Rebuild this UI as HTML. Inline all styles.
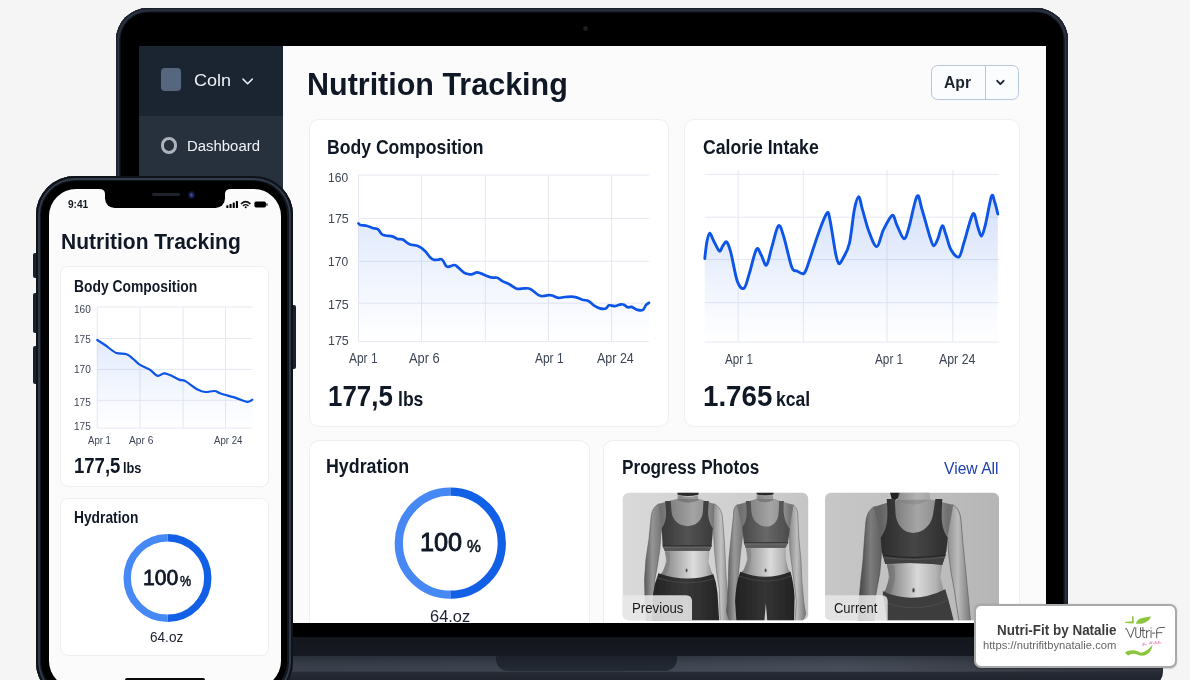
<!DOCTYPE html>
<html><head><meta charset="utf-8"><title>Nutrition Tracking</title>
<style>
html,body{margin:0;padding:0;background:#f5f5f5}
body{width:1190px;height:680px;overflow:hidden;position:relative;background:#f5f5f5;font-family:"Liberation Sans",sans-serif}
.a{position:absolute}
.t{position:absolute;white-space:nowrap;line-height:1;transform-origin:0 50%}
.card{position:absolute;background:#fff;border:1px solid #edeff3;border-radius:10px;box-sizing:border-box}
svg{position:absolute;overflow:visible}
#root{position:relative;width:1190px;height:680px;overflow:hidden;background:#f5f5f5}
</style></head><body><div id="root">

<div class="a" style="left:100px;top:656px;width:1063px;height:30px;border-radius:0 0 14px 0;background:linear-gradient(180deg,#2c323d 0,#3a404c 8px,#3f4552 15px,#262b35 16.5px,#20242d 24px)"></div>
<div class="a" style="left:100px;top:656px;width:1063px;height:16px;background:linear-gradient(90deg,rgba(0,0,0,.12) 0,rgba(0,0,0,.0) 45%,rgba(255,255,255,.05) 70%,rgba(0,0,0,.25) 97%)"></div>
<div class="a" style="left:496px;top:656px;width:181px;height:14.5px;border-radius:0 0 12px 12px;background:linear-gradient(180deg,#1b2029 0,#252b35 100%)"></div>
<div class="a" style="left:115.5px;top:8px;width:952.5px;height:648px;border-radius:32px 32px 0 0;background:#000;box-shadow:inset 0 0 0 1.4px #1b202a,inset 0 0 0 3.2px #2a3341,inset 0 0 0 4.5px #161b24"></div>
<div class="a" style="left:115.5px;top:637px;width:952.5px;height:19px;background:linear-gradient(180deg,#13161d,#171a22)"></div>
<div class="a" style="left:582.9px;top:25.9px;width:5px;height:5px;border-radius:50%;background:radial-gradient(#22252c 0,#15171c 70%)"></div>
<div class="a" style="left:139px;top:46px;width:906.5px;height:577px;background:#fbfbfc;overflow:hidden"></div>
<div class="a" style="left:139px;top:46px;width:144.3px;height:70px;background:#1b2431"></div>
<div class="a" style="left:139px;top:116px;width:144.3px;height:507px;background:#27313e"></div>
<div class="a" style="left:160.6px;top:67.6px;width:20.5px;height:23.5px;border-radius:3.8px;background:#57667f"></div>
<span class="t" style="left:194.16px;top:72.00px;font-size:16.38px;transform:scaleX(1.1026);color:#eef1f5">Coln</span>
<svg style="left:240px;top:75px" width="16" height="12" viewBox="0 0 16 12"><path d="M3 4.1 L7.6 8.7 L12.3 4.1" fill="none" stroke="#e9edf3" stroke-width="1.5" stroke-linecap="round" stroke-linejoin="round"/></svg>
<div class="a" style="left:160.6px;top:137.4px;width:16.8px;height:16.8px;border-radius:50%;box-sizing:border-box;border:3px solid #adb2bc"></div>
<span class="t" style="left:187.26px;top:138.00px;font-size:15.07px;transform:scaleX(0.9898);color:#f0f2f6">Dashboard</span>
<span class="t" style="left:306.78px;top:69.00px;font-size:31.16px;font-weight:bold;transform:scaleX(0.9783);color:#101826">Nutrition Tracking</span>
<div class="a" style="left:930.5px;top:65.3px;width:88.5px;height:35px;box-sizing:border-box;border:1.8px solid #b8c6da;border-radius:6.5px;background:#fbfcfd"></div>
<div class="a" style="left:984.9px;top:66px;width:1.5px;height:33.5px;background:#b8c6da"></div>
<span class="t" style="left:944.04px;top:75.00px;font-size:16.81px;font-weight:bold;transform:scaleX(0.9347);color:#1b2331">Apr</span>
<svg style="left:994px;top:77px" width="14" height="12" viewBox="0 0 14 12"><path d="M3.2 3.8 L6.4 7.1 L9.6 3.8" fill="none" stroke="#1b2331" stroke-width="1.9" stroke-linecap="round" stroke-linejoin="round"/></svg>
<div class="card" style="left:308.5px;top:118.5px;width:360.5px;height:308.5px"></div>
<div class="card" style="left:683.5px;top:118.5px;width:336px;height:308.5px"></div>
<div class="card" style="left:308.5px;top:440px;width:281px;height:183.5px;border-radius:10px 10px 0 0;border-bottom:0"></div>
<div class="card" style="left:603px;top:440px;width:416.5px;height:183.5px;border-radius:10px 10px 0 0;border-bottom:0"></div>
<span class="t" style="left:327.43px;top:137.00px;font-size:20.14px;font-weight:bold;transform:scaleX(0.8744);color:#101826">Body Composition</span>
<span class="t" style="left:703.11px;top:137.00px;font-size:20.00px;font-weight:bold;transform:scaleX(0.8822);color:#101826">Calorie Intake</span>
<span class="t" style="left:325.94px;top:457.00px;font-size:19.42px;font-weight:bold;transform:scaleX(0.9172);color:#101826">Hydration</span>
<span class="t" style="left:622.25px;top:457.00px;font-size:20.29px;font-weight:bold;transform:scaleX(0.8462);color:#101826">Progress Photos</span>
<span class="t" style="left:944.29px;top:461.00px;font-size:16.81px;transform:scaleX(0.9328);color:#1e3fae">View All</span>
<span class="t" style="left:328.42px;top:172.00px;font-size:12.46px;transform:scaleX(0.9675);color:#3d4556">160</span>
<span class="t" style="left:328.41px;top:213.00px;font-size:12.46px;transform:scaleX(0.9990);color:#3d4556">175</span>
<span class="t" style="left:328.42px;top:256.00px;font-size:12.46px;transform:scaleX(0.9675);color:#3d4556">170</span>
<span class="t" style="left:328.41px;top:299.00px;font-size:12.46px;transform:scaleX(0.9990);color:#3d4556">175</span>
<span class="t" style="left:328.41px;top:335.00px;font-size:12.46px;transform:scaleX(0.9990);color:#3d4556">175</span>
<span class="t" style="left:349.21px;top:352.00px;font-size:13.77px;transform:scaleX(0.8679);color:#3d4556">Apr 1</span>
<span class="t" style="left:409.23px;top:352.00px;font-size:13.77px;transform:scaleX(0.9335);color:#3d4556">Apr 6</span>
<span class="t" style="left:535.01px;top:352.00px;font-size:13.77px;transform:scaleX(0.8670);color:#3d4556">Apr 1</span>
<span class="t" style="left:596.73px;top:352.00px;font-size:13.77px;transform:scaleX(0.9069);color:#3d4556">Apr 24</span>
<span class="t" style="left:725.11px;top:353.00px;font-size:13.77px;transform:scaleX(0.8488);color:#3d4556">Apr 1</span>
<span class="t" style="left:875.01px;top:353.00px;font-size:13.77px;transform:scaleX(0.8555);color:#3d4556">Apr 1</span>
<span class="t" style="left:938.93px;top:353.00px;font-size:13.77px;transform:scaleX(0.8971);color:#3d4556">Apr 24</span>
<span class="t" style="left:327.68px;top:381.00px;font-size:29.57px;font-weight:bold;transform:scaleX(0.8763);color:#101826">177,5</span>
<span class="t" style="left:397.54px;top:390.00px;font-size:19.71px;font-weight:bold;transform:scaleX(0.8915);color:#101826">lbs</span>
<span class="t" style="left:702.57px;top:381.00px;font-size:29.28px;font-weight:bold;transform:scaleX(0.9460);color:#101826">1.765</span>
<span class="t" style="left:775.83px;top:390.00px;font-size:19.57px;font-weight:bold;transform:scaleX(0.8983);color:#101826">kcal</span>
<svg style="left:0;top:0" width="1190" height="680" viewBox="0 0 1190 680"><defs><linearGradient id="gA" x1="0" y1="0" x2="0" y2="1"><stop offset="0" stop-color="#2f6bea" stop-opacity=".14"/><stop offset=".8" stop-color="#2f6bea" stop-opacity=".025"/><stop offset="1" stop-color="#2f6bea" stop-opacity="0"/></linearGradient><linearGradient id="gB" x1="0" y1="0" x2="0" y2="1"><stop offset="0" stop-color="#2f6bea" stop-opacity=".21"/><stop offset=".8" stop-color="#2f6bea" stop-opacity=".035"/><stop offset="1" stop-color="#2f6bea" stop-opacity="0"/></linearGradient></defs><path d="M358.5,175H649M358.5,218.4H649M358.5,261.3H649M358.5,303.2H649M358.5,341.7H649M358.5,175V341.7M421.5,175V341.7M485.3,175V341.7M548.5,175V341.7M611.5,175V341.7" stroke="#e6e8f2" stroke-width="1" fill="none"/><path d="M358.5,223.4C358.8,223.7 358.9,224.6 360.4,225.0C361.8,225.4 365.2,225.5 367.2,226.0C369.2,226.5 370.7,227.5 372.5,228.0C374.3,228.5 376.3,228.2 377.8,229.2C379.3,230.2 380.3,232.9 381.6,234.0C382.9,235.1 383.5,235.1 385.4,235.5C387.3,235.9 390.9,236.0 392.9,236.6C394.9,237.2 395.9,238.5 397.5,239.0C399.1,239.5 400.8,238.7 402.8,239.6C404.8,240.5 407.1,243.2 409.6,244.3C412.1,245.4 415.4,245.0 417.9,246.1C420.4,247.2 422.7,248.8 424.7,250.7C426.7,252.5 428.5,255.7 430.0,257.2C431.5,258.7 432.4,259.3 433.8,259.7C435.2,260.1 437.2,259.8 438.3,259.7C439.4,259.6 439.8,258.9 440.6,259.0C441.4,259.1 442.0,259.4 442.9,260.5C443.8,261.6 445.0,264.7 445.9,265.8C446.8,266.9 446.8,267.0 448.2,266.9C449.6,266.8 452.7,265.1 454.2,265.0C455.7,264.9 455.6,265.3 457.2,266.6C458.8,267.9 462.1,271.4 464.0,272.6C465.9,273.9 467.2,273.9 468.6,274.1C470.0,274.4 471.0,274.4 472.4,274.1C473.8,273.8 475.5,272.4 476.9,272.3C478.3,272.2 478.3,272.5 480.7,273.4C483.1,274.2 488.5,276.7 491.3,277.4C494.1,278.1 495.5,277.1 497.3,277.7C499.1,278.3 499.9,279.8 501.9,280.9C503.9,282.0 506.9,283.0 509.4,284.3C511.8,285.6 514.1,288.0 516.6,288.7C519.1,289.4 521.9,288.4 524.2,288.4C526.5,288.4 527.9,287.8 530.3,288.9C532.7,290.0 536.5,294.0 538.6,295.2C540.7,296.4 541.5,296.0 543.1,296.0C544.7,296.0 546.9,295.3 548.4,295.2C549.9,295.1 550.6,295.1 552.2,295.5C553.8,295.9 556.1,297.6 558.2,297.8C560.3,298.1 562.4,297.1 565.0,297.0C567.6,296.9 571.2,296.4 574.1,296.9C577.0,297.3 580.0,299.0 582.4,299.7C584.8,300.4 586.6,300.1 588.5,301.0C590.4,301.9 591.9,304.1 593.8,305.3C595.7,306.5 597.8,307.9 599.8,308.4C601.8,308.9 604.4,309.0 605.9,308.5C607.4,308.0 607.4,305.7 608.9,305.3C610.4,304.9 613.0,306.3 615.0,306.1C617.0,305.9 619.5,304.5 621.0,304.3C622.5,304.1 622.9,304.2 624.0,304.7C625.1,305.2 626.5,306.9 627.8,307.3C629.1,307.7 630.0,306.5 631.6,306.9C633.2,307.3 635.7,309.4 637.6,309.9C639.5,310.4 641.5,310.7 642.9,309.9C644.3,309.1 645.0,306.2 646.0,305.0C647.0,303.8 648.5,303.2 649.0,302.8L649,341.7L358.5,341.7Z" fill="url(#gA)"/><path d="M358.5,223.4C358.8,223.7 358.9,224.6 360.4,225.0C361.8,225.4 365.2,225.5 367.2,226.0C369.2,226.5 370.7,227.5 372.5,228.0C374.3,228.5 376.3,228.2 377.8,229.2C379.3,230.2 380.3,232.9 381.6,234.0C382.9,235.1 383.5,235.1 385.4,235.5C387.3,235.9 390.9,236.0 392.9,236.6C394.9,237.2 395.9,238.5 397.5,239.0C399.1,239.5 400.8,238.7 402.8,239.6C404.8,240.5 407.1,243.2 409.6,244.3C412.1,245.4 415.4,245.0 417.9,246.1C420.4,247.2 422.7,248.8 424.7,250.7C426.7,252.5 428.5,255.7 430.0,257.2C431.5,258.7 432.4,259.3 433.8,259.7C435.2,260.1 437.2,259.8 438.3,259.7C439.4,259.6 439.8,258.9 440.6,259.0C441.4,259.1 442.0,259.4 442.9,260.5C443.8,261.6 445.0,264.7 445.9,265.8C446.8,266.9 446.8,267.0 448.2,266.9C449.6,266.8 452.7,265.1 454.2,265.0C455.7,264.9 455.6,265.3 457.2,266.6C458.8,267.9 462.1,271.4 464.0,272.6C465.9,273.9 467.2,273.9 468.6,274.1C470.0,274.4 471.0,274.4 472.4,274.1C473.8,273.8 475.5,272.4 476.9,272.3C478.3,272.2 478.3,272.5 480.7,273.4C483.1,274.2 488.5,276.7 491.3,277.4C494.1,278.1 495.5,277.1 497.3,277.7C499.1,278.3 499.9,279.8 501.9,280.9C503.9,282.0 506.9,283.0 509.4,284.3C511.8,285.6 514.1,288.0 516.6,288.7C519.1,289.4 521.9,288.4 524.2,288.4C526.5,288.4 527.9,287.8 530.3,288.9C532.7,290.0 536.5,294.0 538.6,295.2C540.7,296.4 541.5,296.0 543.1,296.0C544.7,296.0 546.9,295.3 548.4,295.2C549.9,295.1 550.6,295.1 552.2,295.5C553.8,295.9 556.1,297.6 558.2,297.8C560.3,298.1 562.4,297.1 565.0,297.0C567.6,296.9 571.2,296.4 574.1,296.9C577.0,297.3 580.0,299.0 582.4,299.7C584.8,300.4 586.6,300.1 588.5,301.0C590.4,301.9 591.9,304.1 593.8,305.3C595.7,306.5 597.8,307.9 599.8,308.4C601.8,308.9 604.4,309.0 605.9,308.5C607.4,308.0 607.4,305.7 608.9,305.3C610.4,304.9 613.0,306.3 615.0,306.1C617.0,305.9 619.5,304.5 621.0,304.3C622.5,304.1 622.9,304.2 624.0,304.7C625.1,305.2 626.5,306.9 627.8,307.3C629.1,307.7 630.0,306.5 631.6,306.9C633.2,307.3 635.7,309.4 637.6,309.9C639.5,310.4 641.5,310.7 642.9,309.9C644.3,309.1 645.0,306.2 646.0,305.0C647.0,303.8 648.5,303.2 649.0,302.8" fill="none" stroke="#0d55e6" stroke-width="2.7" stroke-linecap="round" stroke-linejoin="round"/><path d="M704.8,174.3H999M704.8,217.2H999M704.8,259.6H999M704.8,302.7H999M704.8,342H999M738.2,170V342M803.3,170V342M887,170V342M952.8,170V342" stroke="#e6e8f2" stroke-width="1" fill="none"/><path d="M704.8,258.5C705.1,255.7 706.1,246.0 706.9,241.8C707.7,237.6 708.7,233.3 709.8,233.1C710.9,232.9 711.9,237.5 713.5,240.5C715.1,243.5 717.9,250.2 719.4,251.1C720.9,252.0 721.6,247.3 722.8,245.8C724.0,244.3 725.5,241.0 726.8,242.1C728.1,243.2 729.0,245.8 730.8,252.4C732.6,259.0 735.2,275.6 737.4,281.6C739.6,287.6 742.0,289.5 744.0,288.2C746.0,286.9 747.2,280.1 749.3,273.6C751.4,267.1 754.5,252.3 756.5,249.2C758.5,246.1 759.5,252.4 761.2,255.1C762.9,257.8 764.7,266.4 766.5,265.1C768.3,263.8 769.8,253.6 771.8,247.1C773.8,240.6 776.4,227.7 778.4,225.9C780.4,224.1 781.5,229.7 783.7,236.5C785.9,243.3 789.5,261.2 791.7,267.0C793.9,272.8 795.0,269.9 797.0,271.0C799.0,272.1 801.8,274.5 803.6,273.6C805.4,272.7 805.2,272.3 807.6,265.7C810.0,259.1 815.0,242.7 818.2,233.9C821.4,225.2 824.9,215.4 826.9,213.2C828.9,211.0 828.7,214.1 830.1,220.6C831.5,227.1 834.0,245.2 835.4,252.4C836.8,259.6 837.5,262.6 838.8,263.5C840.1,264.4 841.5,261.1 843.3,257.7C845.1,254.3 847.7,250.9 849.5,243.0C851.3,235.1 852.8,217.7 854.3,210.0C855.8,202.3 857.5,197.0 858.8,196.8C860.1,196.6 860.5,203.0 862.2,208.7C863.9,214.4 866.4,224.9 868.8,231.2C871.2,237.5 874.4,246.8 876.8,246.6C879.2,246.4 880.8,235.1 883.4,229.9C886.0,224.7 890.0,216.2 892.2,215.3C894.4,214.4 894.8,220.7 896.7,224.6C898.6,228.5 901.8,237.9 903.8,238.6C905.8,239.3 906.4,235.6 908.6,228.6C910.8,221.6 914.8,199.6 917.0,196.3C919.2,193.0 919.7,202.0 921.8,208.7C923.9,215.4 927.8,230.3 929.8,236.5C931.8,242.7 932.4,245.4 933.7,245.8C935.0,246.2 936.3,242.5 937.7,239.2C939.1,235.9 940.9,226.8 942.2,225.9C943.5,225.0 944.2,229.9 945.7,233.9C947.2,237.9 948.8,246.0 951.0,249.8C953.2,253.6 956.7,258.2 958.9,256.9C961.1,255.6 961.9,249.0 964.2,241.8C966.5,234.7 970.7,216.7 972.9,214.0C975.1,211.3 976.1,222.2 977.5,225.9C978.9,229.6 980.1,236.2 981.4,236.0C982.7,235.8 983.7,231.2 985.4,224.6C987.1,218.0 990.0,200.1 991.5,196.3C993.0,192.6 993.7,199.2 994.7,202.1C995.8,205.0 997.3,212.0 997.8,214.0L997.8,342L704.8,342Z" fill="url(#gB)"/><path d="M704.8,258.5C705.1,255.7 706.1,246.0 706.9,241.8C707.7,237.6 708.7,233.3 709.8,233.1C710.9,232.9 711.9,237.5 713.5,240.5C715.1,243.5 717.9,250.2 719.4,251.1C720.9,252.0 721.6,247.3 722.8,245.8C724.0,244.3 725.5,241.0 726.8,242.1C728.1,243.2 729.0,245.8 730.8,252.4C732.6,259.0 735.2,275.6 737.4,281.6C739.6,287.6 742.0,289.5 744.0,288.2C746.0,286.9 747.2,280.1 749.3,273.6C751.4,267.1 754.5,252.3 756.5,249.2C758.5,246.1 759.5,252.4 761.2,255.1C762.9,257.8 764.7,266.4 766.5,265.1C768.3,263.8 769.8,253.6 771.8,247.1C773.8,240.6 776.4,227.7 778.4,225.9C780.4,224.1 781.5,229.7 783.7,236.5C785.9,243.3 789.5,261.2 791.7,267.0C793.9,272.8 795.0,269.9 797.0,271.0C799.0,272.1 801.8,274.5 803.6,273.6C805.4,272.7 805.2,272.3 807.6,265.7C810.0,259.1 815.0,242.7 818.2,233.9C821.4,225.2 824.9,215.4 826.9,213.2C828.9,211.0 828.7,214.1 830.1,220.6C831.5,227.1 834.0,245.2 835.4,252.4C836.8,259.6 837.5,262.6 838.8,263.5C840.1,264.4 841.5,261.1 843.3,257.7C845.1,254.3 847.7,250.9 849.5,243.0C851.3,235.1 852.8,217.7 854.3,210.0C855.8,202.3 857.5,197.0 858.8,196.8C860.1,196.6 860.5,203.0 862.2,208.7C863.9,214.4 866.4,224.9 868.8,231.2C871.2,237.5 874.4,246.8 876.8,246.6C879.2,246.4 880.8,235.1 883.4,229.9C886.0,224.7 890.0,216.2 892.2,215.3C894.4,214.4 894.8,220.7 896.7,224.6C898.6,228.5 901.8,237.9 903.8,238.6C905.8,239.3 906.4,235.6 908.6,228.6C910.8,221.6 914.8,199.6 917.0,196.3C919.2,193.0 919.7,202.0 921.8,208.7C923.9,215.4 927.8,230.3 929.8,236.5C931.8,242.7 932.4,245.4 933.7,245.8C935.0,246.2 936.3,242.5 937.7,239.2C939.1,235.9 940.9,226.8 942.2,225.9C943.5,225.0 944.2,229.9 945.7,233.9C947.2,237.9 948.8,246.0 951.0,249.8C953.2,253.6 956.7,258.2 958.9,256.9C961.1,255.6 961.9,249.0 964.2,241.8C966.5,234.7 970.7,216.7 972.9,214.0C975.1,211.3 976.1,222.2 977.5,225.9C978.9,229.6 980.1,236.2 981.4,236.0C982.7,235.8 983.7,231.2 985.4,224.6C987.1,218.0 990.0,200.1 991.5,196.3C993.0,192.6 993.7,199.2 994.7,202.1C995.8,205.0 997.3,212.0 997.8,214.0" fill="none" stroke="#0d55e6" stroke-width="2.9" stroke-linecap="round" stroke-linejoin="round"/><path d="M450.3,491.70000000000005A51.5,51.5 0 0 1 450.3,594.7" fill="none" stroke="#1260e6" stroke-width="8.3"/><path d="M450.3,594.7A51.5,51.5 0 0 1 450.3,491.70000000000005" fill="none" stroke="#4689f5" stroke-width="8.3"/></svg>
<span class="t" style="left:419.72px;top:529.00px;font-size:26.09px;transform:scaleX(0.9689);-webkit-text-stroke:.9px #101826;color:#101826">100</span>
<span class="t" style="left:466.76px;top:539.00px;font-size:16.81px;transform:scaleX(0.9289);-webkit-text-stroke:.6px #101826;color:#101826">%</span>
<span class="t" style="left:430.28px;top:608.00px;font-size:16.38px;transform:scaleX(1.0036);color:#1c2230">64.oz</span>
<svg style="left:0;top:0" width="1190" height="680" viewBox="0 0 1190 680"><defs>
<clipPath id="c1"><rect x="622.7" y="492.7" width="185.5" height="127.6" rx="6"/></clipPath>
<clipPath id="c2"><rect x="825" y="492.7" width="174" height="127.6" rx="6"/></clipPath>
<linearGradient id="bg1" x1="0" y1="0" x2="1" y2="0"><stop offset="0" stop-color="#d9d9d9"/><stop offset=".5" stop-color="#d2d2d2"/><stop offset="1" stop-color="#c5c5c5"/></linearGradient>
<linearGradient id="bg2" x1="0" y1="0" x2="1" y2="0"><stop offset="0" stop-color="#c7c7c7"/><stop offset=".5" stop-color="#c0c0c0"/><stop offset="1" stop-color="#b5b5b5"/></linearGradient>
<filter id="bl" x="-5%" y="-5%" width="110%" height="110%"><feGaussianBlur stdDeviation="2.4"/></filter>
<!-- figure A -->
<linearGradient id="aL" gradientUnits="userSpaceOnUse" x1="48" y1="0" x2="135" y2="0"><stop offset="0" stop-color="#5a5a5a"/><stop offset=".45" stop-color="#959595"/><stop offset="1" stop-color="#747474"/></linearGradient>
<linearGradient id="aR" gradientUnits="userSpaceOnUse" x1="395" y1="0" x2="480" y2="0"><stop offset="0" stop-color="#8c8c8c"/><stop offset=".45" stop-color="#c2c2c2"/><stop offset="1" stop-color="#767676"/></linearGradient>
<linearGradient id="aT" gradientUnits="userSpaceOnUse" x1="120" y1="0" x2="400" y2="0"><stop offset="0" stop-color="#747474"/><stop offset=".25" stop-color="#a0a0a0"/><stop offset=".62" stop-color="#dcdcdc"/><stop offset=".85" stop-color="#bababa"/><stop offset="1" stop-color="#808080"/></linearGradient>
<linearGradient id="aB" gradientUnits="userSpaceOnUse" x1="135" y1="0" x2="392" y2="0"><stop offset="0" stop-color="#383838"/><stop offset=".5" stop-color="#535353"/><stop offset="1" stop-color="#3a3a3a"/></linearGradient>
<linearGradient id="aP" gradientUnits="userSpaceOnUse" x1="85" y1="0" x2="424" y2="0"><stop offset="0" stop-color="#242424"/><stop offset=".5" stop-color="#383838"/><stop offset="1" stop-color="#252525"/></linearGradient>
<!-- figure B -->
<linearGradient id="bL" gradientUnits="userSpaceOnUse" x1="35" y1="0" x2="118" y2="0"><stop offset="0" stop-color="#5a5a5a"/><stop offset=".45" stop-color="#989898"/><stop offset="1" stop-color="#767676"/></linearGradient>
<linearGradient id="bR" gradientUnits="userSpaceOnUse" x1="350" y1="0" x2="432" y2="0"><stop offset="0" stop-color="#8a8a8a"/><stop offset=".45" stop-color="#bebebe"/><stop offset="1" stop-color="#747474"/></linearGradient>
<linearGradient id="bT" gradientUnits="userSpaceOnUse" x1="105" y1="0" x2="355" y2="0"><stop offset="0" stop-color="#787878"/><stop offset=".25" stop-color="#a6a6a6"/><stop offset=".6" stop-color="#dadada"/><stop offset=".85" stop-color="#b6b6b6"/><stop offset="1" stop-color="#808080"/></linearGradient>
<linearGradient id="bB" gradientUnits="userSpaceOnUse" x1="112" y1="0" x2="352" y2="0"><stop offset="0" stop-color="#484848"/><stop offset=".5" stop-color="#686868"/><stop offset="1" stop-color="#4a4a4a"/></linearGradient>
<linearGradient id="bP" gradientUnits="userSpaceOnUse" x1="76" y1="0" x2="376" y2="0"><stop offset="0" stop-color="#222"/><stop offset=".5" stop-color="#343434"/><stop offset="1" stop-color="#232323"/></linearGradient>
<!-- figure C -->
<linearGradient id="cL" gradientUnits="userSpaceOnUse" x1="45" y1="0" x2="162" y2="0"><stop offset="0" stop-color="#444"/><stop offset=".5" stop-color="#7c7c7c"/><stop offset="1" stop-color="#5e5e5e"/></linearGradient>
<linearGradient id="cR" gradientUnits="userSpaceOnUse" x1="490" y1="0" x2="608" y2="0"><stop offset="0" stop-color="#8e8e8e"/><stop offset=".45" stop-color="#bcbcbc"/><stop offset="1" stop-color="#767676"/></linearGradient>
<linearGradient id="cT" gradientUnits="userSpaceOnUse" x1="155" y1="0" x2="492" y2="0"><stop offset="0" stop-color="#666"/><stop offset=".25" stop-color="#9c9c9c"/><stop offset=".55" stop-color="#d8d8d8"/><stop offset=".82" stop-color="#b4b4b4"/><stop offset="1" stop-color="#7c7c7c"/></linearGradient>
<linearGradient id="cB" gradientUnits="userSpaceOnUse" x1="155" y1="0" x2="492" y2="0"><stop offset="0" stop-color="#2c2c2c"/><stop offset=".5" stop-color="#464646"/><stop offset="1" stop-color="#2e2e2e"/></linearGradient>
</defs><g clip-path="url(#c1)"><rect x="622" y="492" width="187" height="129" fill="url(#bg1)"/><svg x="635" y="490" width="100" height="135" viewBox="0 0 504 680" overflow="visible"><g filter="url(#bl)"><path d="M120,70 Q88,85 82,130 L70,250 L55,350 L48,450 L50,540 L60,690 L110,690 L100,540 L100,450 L110,400 L125,300 L130,230 L150,80Z" fill="url(#aL)" stroke="#5a5a5a" stroke-width="3"/><path d="M400,70 Q432,85 440,130 L450,250 L455,350 L460,450 L470,560 L484,690 L430,690 L425,500 L410,400 L400,300 L395,200 L375,80Z" fill="url(#aR)" stroke="#6a6a6a" stroke-width="3"/><path d="M215,5 L320,5 L325,45 Q365,60 400,70 L395,200 L385,290 L375,305 L370,360 L385,410 L395,430 L395,455 L120,455 L120,435 L140,410 L160,360 L150,305 L140,290 L135,200 L120,70 Q160,58 212,45Z" fill="url(#aT)"/><path d="M120,70 Q160,58 212,45 L325,45 Q365,60 400,70 L395,200 L135,200Z" fill="#666" opacity=".48"/><path d="M212,5 L322,5 L319,24 Q268,36 216,24Z" fill="#2a2a2a"/><path d="M220,26 Q268,42 316,26 L320,52 Q268,76 216,52Z" fill="#5a5a5a" opacity=".5"/><path d="M152,55 L180,55 L184,110 C190,165 235,182 265,182 C295,182 338,165 342,110 L345,55 L372,55 C368,110 362,150 392,192 L386,280 L376,306 L150,306 L140,280 L135,192 C164,150 158,110 152,55Z" fill="url(#aB)"/><path d="M140,280 L386,280 L376,306 L150,306Z" fill="#565656"/><path d="M139,281 L387,281" stroke="#2a2a2a" stroke-width="5"/><path d="M143,289 L383,289" stroke="#7a7a7a" stroke-width="2"/><path d="M150,310 Q165,360 140,410 L120,436 L150,436 Q185,380 175,312Z" fill="#777" opacity=".45"/><ellipse cx="260" cy="405" rx="5" ry="9" fill="#505050"/><path d="M118,420 Q260,470 395,425 Q412,470 416,520 L426,690 L85,690 L90,530 Q98,470 118,420Z" fill="url(#aP)"/><path d="M110,442 Q260,492 402,446" stroke="#4a4a4a" stroke-width="4" fill="none"/></g></svg><svg x="720" y="490" width="100" height="135" viewBox="0 0 504 680" overflow="visible"><g filter="url(#bl)"><path d="M85,75 Q66,90 68,130 L55,250 L45,350 L42,450 L38,560 L32,610 Q40,650 60,668 L92,662 L82,560 L85,500 L95,400 L105,300 L115,220 L128,82Z" fill="url(#bL)" stroke="#5a5a5a" stroke-width="3"/><path d="M370,75 Q392,90 392,130 L398,250 L408,350 L412,450 L422,560 L432,625 Q425,655 400,670 L378,658 L385,560 L378,500 L365,400 L352,300 L350,220 L325,82Z" fill="url(#bR)" stroke="#6a6a6a" stroke-width="3"/><path d="M185,5 L270,5 L275,45 Q320,62 370,75 L352,190 L340,270 L330,290 L332,350 L345,400 L355,415 L355,445 L105,445 L105,420 L120,400 L140,350 L130,290 L122,270 L112,180 L85,75 Q140,60 182,45Z" fill="url(#bT)"/><path d="M85,75 Q140,60 182,45 L275,45 Q320,62 370,75 L352,190 L112,190Z" fill="#666" opacity=".46"/><path d="M183,5 L272,5 L269,22 Q228,32 186,22Z" fill="#2a2a2a"/><path d="M190,24 Q228,38 266,24 L270,50 Q228,72 186,50Z" fill="#5a5a5a" opacity=".5"/><path d="M130,55 L155,55 L158,108 C164,165 205,184 235,184 C262,184 294,165 296,108 L298,55 L322,55 C318,110 318,150 352,196 L342,268 L330,291 L130,291 L121,268 L112,188 C140,150 136,110 130,55Z" fill="url(#bB)"/><path d="M121,264 L343,264 L330,291 L130,291Z" fill="#5c5c5c"/><path d="M120,265 L344,265" stroke="#363636" stroke-width="5"/><path d="M124,273 L340,273" stroke="#858585" stroke-width="2"/><path d="M130,294 Q145,350 120,400 L105,422 L135,422 Q165,370 155,296Z" fill="#777" opacity=".42"/><ellipse cx="230" cy="405" rx="5" ry="9" fill="#505050"/><path d="M102,412 Q230,462 355,412 Q372,470 376,540 L372,690 L241,690 L231,570 L221,690 L85,690 L76,560 Q80,470 102,412Z" fill="url(#bP)"/><path d="M96,434 Q230,484 362,434" stroke="#474747" stroke-width="4" fill="none"/></g></svg><path d="M622,595.2 L686,595.2 Q692,595.2 692,601.2 L692,621 L622,621Z" fill="#e8e8e8" opacity=".88"/></g><g clip-path="url(#c2)"><rect x="824" y="492" width="176" height="129" fill="url(#bg2)"/><svg x="850" y="490" width="130" height="135" viewBox="0 0 655 680" overflow="visible"><g filter="url(#bl)"><path d="M120,85 Q86,105 80,160 L72,260 L65,360 L55,450 L45,560 L40,690 L120,690 L125,560 L135,500 L150,420 L158,330 L160,230 L185,95Z" fill="url(#cL)" stroke="#484848" stroke-width="3"/><path d="M520,75 Q556,95 560,160 L568,260 L578,360 L588,460 L598,560 L610,690 L554,690 L540,600 L525,500 L510,420 L498,330 L490,230 L462,90Z" fill="url(#cR)" stroke="#6a6a6a" stroke-width="4"/><path d="M240,5 L400,5 L408,48 Q465,62 520,75 L492,230 L485,310 L465,375 L455,440 L470,500 L480,512 L480,545 L165,545 L165,520 L180,500 L200,440 L185,372 L160,310 L155,230 L120,85 Q180,66 236,50Z" fill="url(#cT)"/><path d="M120,85 Q180,66 236,50 L408,48 Q465,62 520,75 L492,230 L155,230Z" fill="#606060" opacity=".42"/><path d="M200,5 L254,5 L242,40 L214,60Z" fill="#242424"/><path d="M246,8 L398,8 L405,45 Q320,98 240,50Z" fill="#7c7c7c" opacity=".4"/><path d="M185,45 L225,45 L230,125 C240,195 285,216 318,216 C352,216 405,195 418,125 L430,45 L465,45 C462,120 452,180 492,240 L485,310 L465,376 Q320,362 178,373 L160,310 L155,240 C196,180 190,120 185,45Z" fill="url(#cB)"/><path d="M166,330 Q320,350 482,328 L465,376 Q320,362 178,373Z" fill="#404040"/><path d="M165,330 Q320,350 483,328" stroke="#222" stroke-width="5" fill="none"/><path d="M170,341 Q320,360 478,339" stroke="#707070" stroke-width="2" fill="none"/><path d="M186,378 Q205,440 180,500 L165,522 L205,522 Q240,450 222,378Z" fill="#666" opacity=".45"/><ellipse cx="320" cy="505" rx="6" ry="11" fill="#484848"/><path d="M165,510 Q320,580 480,500 Q502,570 530,690 L190,690 Q176,600 165,510Z" fill="#3c3c3c"/><path d="M172,562 Q320,628 500,554" stroke="#585858" stroke-width="3" fill="none"/></g></svg><path d="M824,595.2 L881.7,595.2 Q887.7,595.2 887.7,601.2 L887.7,621 L824,621Z" fill="#e6e6e6" opacity=".86"/></g></svg><span class="t" style="left:631.77px;top:601.00px;font-size:14.49px;transform:scaleX(0.9137);color:#1a1a1a">Previous</span><span class="t" style="left:834.20px;top:601.00px;font-size:14.49px;transform:scaleX(0.8962);color:#1a1a1a">Current</span>
<div class="a" style="left:119px;top:623px;width:945.5px;height:14px;background:#000"></div>
<div class="a" style="left:32.8px;top:253px;width:5px;height:25px;border-radius:2px;background:#1b212c"></div>
<div class="a" style="left:32.8px;top:293px;width:5px;height:40px;border-radius:2px;background:#1b212c"></div>
<div class="a" style="left:32.8px;top:345.5px;width:5px;height:38.5px;border-radius:2px;background:#1b212c"></div>
<div class="a" style="left:291px;top:305px;width:5px;height:64px;border-radius:2px;background:#1b212c"></div>
<div class="a" style="left:35.5px;top:175.7px;width:257.5px;height:525.5px;border-radius:39px;background:#12171f;box-shadow:inset 0 0 0 2.1px #0e131a,inset 0 0 0 3.9px #333c4b,inset 0 0 0 5.8px #12171f"></div>
<div class="a" style="left:41.2px;top:181.4px;width:246.1px;height:514px;border-radius:34px;background:#000"></div>
<div class="a" style="left:49px;top:189px;width:232px;height:499px;border-radius:27px;background:#fbfbfc"></div>
<div class="a" style="left:105px;top:186px;width:120px;height:21.6px;border-radius:0 0 9.5px 9.5px;background:#000"></div>
<svg style="left:98px;top:189px" width="134" height="8" viewBox="0 0 134 8"><path d="M1,0 H7 V5 Q7,0 1,0Z M133,0 H127 V5 Q127,0 133,0Z" fill="#000"/></svg>
<div class="a" style="left:151.5px;top:193.2px;width:28.2px;height:2.7px;border-radius:1.4px;background:#1f232b"></div>
<div class="a" style="left:187.9px;top:191.3px;width:7.6px;height:7.6px;border-radius:50%;background:radial-gradient(#4b62da 0,#2a3a86 20%,#131a38 48%,#0a0e1d 72%,#000 100%)"></div>
<span class="t" style="left:68.08px;top:199.00px;font-size:10.87px;font-weight:bold;transform:scaleX(0.9300);color:#14181f">9:41</span>
<svg style="left:226px;top:199.5px" width="44" height="9" viewBox="0 0 44 9"><rect x="0.3" y="5.2" width="2.1" height="2.9" rx=".5"/><rect x="3.5" y="3.9" width="2.1" height="4.2" rx=".5"/><rect x="6.7" y="2.4" width="2.1" height="5.7" rx=".5"/><rect x="9.9" y="1" width="2.1" height="7.1" rx=".5"/><path d="M15.4,3.6 Q19.7,-.3 24,3.6" fill="none" stroke="#111" stroke-width="1.5" stroke-linecap="round"/><path d="M17.3,5.6 Q19.7,3.6 22.1,5.6" fill="none" stroke="#111" stroke-width="1.4" stroke-linecap="round"/><circle cx="19.7" cy="7.3" r="1"/><rect x="28.4" y="1.6" width="11.6" height="5.8" rx="1.6"/><rect x="40.4" y="3.3" width="1.1" height="2.4" rx=".5"/></svg>
<span class="t" style="left:60.92px;top:231.00px;font-size:22.61px;font-weight:bold;transform:scaleX(0.9291);color:#101826">Nutrition Tracking</span>
<div class="card" style="left:60.3px;top:265.8px;width:208.4px;height:221.5px;border-radius:8px"></div>
<div class="card" style="left:60.3px;top:498px;width:208.4px;height:158px;border-radius:8px"></div>
<span class="t" style="left:73.94px;top:279.00px;font-size:15.65px;font-weight:bold;transform:scaleX(0.8863);color:#101826">Body Composition</span>
<span class="t" style="left:73.95px;top:305.00px;font-size:10.43px;transform:scaleX(0.9690);color:#3d4556">160</span>
<span class="t" style="left:73.95px;top:335.00px;font-size:10.43px;transform:scaleX(0.9650);color:#3d4556">175</span>
<span class="t" style="left:73.95px;top:365.00px;font-size:10.43px;transform:scaleX(0.9690);color:#3d4556">170</span>
<span class="t" style="left:73.95px;top:398.00px;font-size:10.43px;transform:scaleX(0.9650);color:#3d4556">175</span>
<span class="t" style="left:73.95px;top:422.00px;font-size:10.43px;transform:scaleX(0.9650);color:#3d4556">175</span>
<span class="t" style="left:87.99px;top:435.00px;font-size:11.01px;transform:scaleX(0.8721);color:#3d4556">Apr 1</span>
<span class="t" style="left:128.63px;top:435.00px;font-size:11.01px;transform:scaleX(0.9235);color:#3d4556">Apr 6</span>
<span class="t" style="left:213.89px;top:435.00px;font-size:11.01px;transform:scaleX(0.8779);color:#3d4556">Apr 24</span>
<span class="t" style="left:74.43px;top:456.00px;font-size:21.45px;font-weight:bold;transform:scaleX(0.8649);color:#101826">177,5</span>
<span class="t" style="left:122.57px;top:461.00px;font-size:14.20px;font-weight:bold;transform:scaleX(0.9019);color:#101826">lbs</span>
<span class="t" style="left:74.34px;top:510.00px;font-size:15.94px;font-weight:bold;transform:scaleX(0.8645);color:#101826">Hydration</span>
<span class="t" style="left:142.69px;top:567.00px;font-size:22.61px;transform:scaleX(0.9351);-webkit-text-stroke:.8px #101826;color:#101826">100</span>
<span class="t" style="left:180.23px;top:575.00px;font-size:13.91px;transform:scaleX(0.9028);-webkit-text-stroke:.5px #101826;color:#101826">%</span>
<span class="t" style="left:150.27px;top:630.00px;font-size:14.93px;transform:scaleX(0.9106);color:#1c2230">64.oz</span>
<svg style="left:0;top:0" width="1190" height="680" viewBox="0 0 1190 680"><path d="M97.2,307H252.3M97.2,338.5H252.3M97.2,369.4H252.3M97.2,400.3H252.3M97.2,428.1H252.3M97.2,307V428.1M139.9,307V428.1M183.1,307V428.1M225.5,307V428.1" stroke="#e6e8f2" stroke-width="1" fill="none"/><path d="M97.2,340.0C98.5,340.8 101.9,342.9 105.0,345.0C108.1,347.1 112.2,351.1 115.8,352.7C119.4,354.2 123.8,353.3 126.6,354.3C129.4,355.3 130.8,357.0 132.8,358.6C134.9,360.2 136.1,362.2 138.9,364.1C141.7,366.0 146.7,367.7 149.8,369.7C152.9,371.7 155.2,375.3 157.5,375.9C159.8,376.5 161.6,373.5 163.7,373.4C165.8,373.2 167.2,374.0 169.8,375.0C172.4,376.0 176.5,378.6 179.1,379.6C181.7,380.6 182.2,379.5 185.3,381.1C188.4,382.8 194.2,387.7 197.6,389.5C200.9,391.3 202.6,391.8 205.4,392.0C208.2,392.2 212.0,390.8 214.6,391.0C217.2,391.2 217.2,392.3 220.8,393.5C224.4,394.7 231.9,396.7 236.3,398.1C240.7,399.5 244.4,401.5 247.1,401.8C249.8,402.1 251.4,400.1 252.3,399.7L252.3,428.1L97.2,428.1Z" fill="url(#gA)"/><path d="M97.2,340.0C98.5,340.8 101.9,342.9 105.0,345.0C108.1,347.1 112.2,351.1 115.8,352.7C119.4,354.2 123.8,353.3 126.6,354.3C129.4,355.3 130.8,357.0 132.8,358.6C134.9,360.2 136.1,362.2 138.9,364.1C141.7,366.0 146.7,367.7 149.8,369.7C152.9,371.7 155.2,375.3 157.5,375.9C159.8,376.5 161.6,373.5 163.7,373.4C165.8,373.2 167.2,374.0 169.8,375.0C172.4,376.0 176.5,378.6 179.1,379.6C181.7,380.6 182.2,379.5 185.3,381.1C188.4,382.8 194.2,387.7 197.6,389.5C200.9,391.3 202.6,391.8 205.4,392.0C208.2,392.2 212.0,390.8 214.6,391.0C217.2,391.2 217.2,392.3 220.8,393.5C224.4,394.7 231.9,396.7 236.3,398.1C240.7,399.5 244.4,401.5 247.1,401.8C249.8,402.1 251.4,400.1 252.3,399.7" fill="none" stroke="#0d55e6" stroke-width="2.2" stroke-linecap="round" stroke-linejoin="round"/><path d="M167.5,537.7A40.3,40.3 0 0 1 167.5,618.3" fill="none" stroke="#1260e6" stroke-width="7.4"/><path d="M167.5,618.3A40.3,40.3 0 0 1 167.5,537.7" fill="none" stroke="#4689f5" stroke-width="7.4"/></svg>
<div class="a" style="left:125.3px;top:678.3px;width:80px;height:4px;border-radius:2px;background:#0a0a0a"></div>
<div class="a" style="left:973.6px;top:603.8px;width:203.6px;height:63.8px;box-sizing:border-box;border:2px solid #a9a9a9;border-radius:7px;background:#fff;box-shadow:0 .5px 1.5px rgba(0,0,0,.18)"></div>
<span class="t" style="left:997.27px;top:623.00px;font-size:14.06px;font-weight:bold;transform:scaleX(0.9571);color:#3b3b3b">Nutri-Fit by Natalie</span>
<span class="t" style="left:983.11px;top:640.00px;font-size:11.30px;transform:scaleX(0.9926);color:#666">https://nutrifitbynatalie.com</span>
<svg style="left:1118px;top:610px" width="56" height="52" viewBox="0 0 732 680"><path d="M184,80 L204,84 L206,176 L96,170 L94,156 Q150,146 184,152Z" fill="#8cc63f"/><path d="M234,180 Q246,112 330,100 Q390,94 433,86 Q412,142 350,166 Q300,186 234,180Z" fill="#8cc63f"/><g fill="none" stroke="#3a3a3a" stroke-width="11" stroke-linecap="round" stroke-linejoin="round"><path d="M96,248 L112,244 L166,362 L214,228"/><path d="M232,232 L232,330 Q232,362 262,362 Q294,362 294,330 L294,232"/><path d="M326,228 L326,340 Q326,362 350,362 M304,268 L352,268"/><path d="M374,362 L374,268 M374,292 Q384,266 412,268"/><path d="M432,268 L432,362 M432,232 L432,236"/><path d="M450,302 L482,302"/><path d="M506,364 L506,262 Q508,230 548,230 L608,228 M506,298 L574,296"/></g><path d="M322,470 q4,-40 16,-44 q10,2 -2,22 q-8,14 6,4 q10,-10 16,-2 q4,8 14,0 M410,446 q6,-30 16,-30 q4,16 8,28 q4,-20 12,-32 M452,444 q10,-16 18,-6 q4,8 12,0 q4,-22 12,-30 q2,16 0,32 q8,-12 16,-4 q6,8 14,-2 q2,-20 10,-30 q2,18 0,32 q6,-10 12,-10 q4,6 10,8 q8,0 12,-8" fill="none" stroke="#e2579f" stroke-width="7" stroke-linecap="round" stroke-linejoin="round"/><path d="M94,548 Q150,518 226,528 Q270,540 300,560 Q384,540 449,458 Q444,542 372,586 Q300,612 240,580 Q182,560 132,596 Q100,582 94,548Z" fill="#8cc63f"/></svg>
</div></body></html>
